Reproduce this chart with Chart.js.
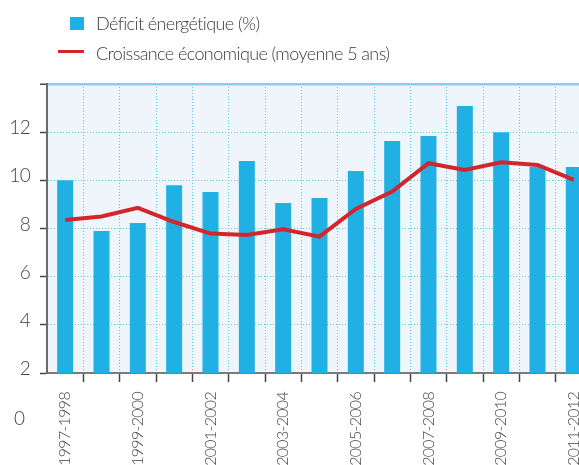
<!DOCTYPE html>
<html>
<head>
<meta charset="utf-8">
<script src="https://cdn.jsdelivr.net/npm/chart.js@4.4.1/dist/chart.umd.min.js"></script>
<style>
  html, body { margin: 0; padding: 0; overflow: hidden; background: #ffffff; width: 579px; height: 465px; }
  #wrap { position: absolute; left: 0; top: 0; width: 592px; height: 465px; }
  .lg { position: absolute; font-family: Lato, "Open Sans", sans-serif; font-weight: 300; font-size: 18px; letter-spacing: -0.6px; color: #3a3a3a; line-height: 18px; white-space: nowrap; }
  #zero { position: absolute; left: 14px; top: 408px; font-family: Lato, sans-serif; font-weight: 300; font-size: 19px; color: #444; line-height: 19px; }
</style>
</head>
<body>
<div id="wrap"><canvas id="c"></canvas></div>
<div style="position:absolute;left:70px;top:17px;width:14px;height:13px;background:#20b0e3"></div>
<div class="lg" id="l1" style="left:96px;top:14px;">Déficit énergétique (%)</div>
<div style="position:absolute;left:58px;top:50px;width:26px;height:3px;background:#d3262c"></div>
<div class="lg" id="l2" style="left:96px;top:44px;">Croissance économique (moyenne 5 ans)</div>
<div id="zero">0</div>
<script>
const categories = ["1997-1998","1998-1999","1999-2000","2000-2001","2001-2002","2002-2003","2003-2004","2004-2005","2005-2006","2006-2007","2007-2008","2008-2009","2009-2010","2010-2011","2011-2012"];
const deficitEnergetique = [10.0, 7.9, 8.23, 9.8, 9.52, 10.8, 9.06, 9.27, 10.39, 11.63, 11.84, 13.09, 12.0, 10.55, 10.55];
const croissanceEconomique = [8.35, 8.5, 8.86, 8.27, 7.79, 7.73, 7.97, 7.66, 8.81, 9.53, 10.71, 10.43, 10.75, 10.64, 10.02];
const yTicks = [2, 4, 6, 8, 10, 12, 14];
const labelFont = "Lato, 'Open Sans', sans-serif";

const bgPlugin = {
  id: 'bg',
  beforeDraw(chart) {
    const {ctx, chartArea: a} = chart;
    ctx.letterSpacing = '-0.7px';
    ctx.save();
    ctx.fillStyle = '#eef5fb';
    ctx.fillRect(a.left, a.top, a.right - a.left, a.bottom - a.top);
    ctx.restore();
  }
};

new Chart(document.getElementById('c'), {
  data: {
    labels: categories,
    datasets: [
      {
        type: 'line',
        label: 'Croissance économique (moyenne 5 ans)',
        data: croissanceEconomique,
        borderColor: '#d3262c',
        borderWidth: 4,
        pointRadius: 0,
        tension: 0,
        order: 0
      },
      {
        type: 'bar',
        label: 'Déficit énergétique (%)',
        data: deficitEnergetique,
        backgroundColor: '#20b0e3',
        categoryPercentage: 1.0,
        barPercentage: 0.44,
        order: 1
      }
    ]
  },
  options: {
    responsive: true,
    maintainAspectRatio: false,
    animation: false,
    layout: { padding: { top: 84, left: 0, right: 0, bottom: 0 } },
    plugins: { legend: { display: false }, tooltip: { enabled: false } },
    scales: {
      x: {
        offset: true,
        grid: {
          offset: true,
          color: '#5cc6ec',
          lineWidth: 1,
          tickLength: 9,
          tickColor: (ctx) => ctx.index === 0 ? 'rgba(0,0,0,0)' : '#444',
          tickWidth: 1.5,
          tickBorderDash: []
        },
        border: { display: true, color: '#7a7a7a', width: 2, dash: [1, 2] },
        ticks: {
          autoSkip: false,
          maxRotation: 90,
          minRotation: 90,
          padding: 10,
          color: '#444',
          font: { family: labelFont, size: 16, weight: '300' },
          callback: function(v, i) { return i % 2 === 0 ? categories[i] : ''; }
        },
        afterFit(scale) { scale.height = 92; scale.paddingLeft = 0; scale.paddingRight = 0; }
      },
      y: {
        min: 2,
        max: 14,
        afterBuildTicks(scale) { scale.ticks = yTicks.map(v => ({ value: v })); },
        grid: {
          color: (ctx) => ctx.tick && ctx.tick.value === 14 ? '#86d0ee' : '#5cc6ec',
          lineWidth: (ctx) => ctx.tick && ctx.tick.value === 14 ? 2.5 : 1,
          tickLength: 7,
          tickColor: '#444',
          tickWidth: 1.5,
          tickBorderDash: []
        },
        border: {
          display: true, color: '#6a6a6a', width: 2,
          dash: (ctx) => ctx.tick && (ctx.tick.value === 14 || ctx.tick.value === 2) ? [] : [1, 2]
        },
        ticks: {
          padding: 10,
          labelOffset: -4,
          color: '#444',
          font: { family: labelFont, size: 19, weight: '300' },
          callback: (v) => v === 14 ? '' : String(v)
        },
        afterFit(scale) { scale.width = 47; scale.paddingTop = 0; }
      }
    }
  },
  plugins: [bgPlugin]
});
</script>
</body>
</html>
